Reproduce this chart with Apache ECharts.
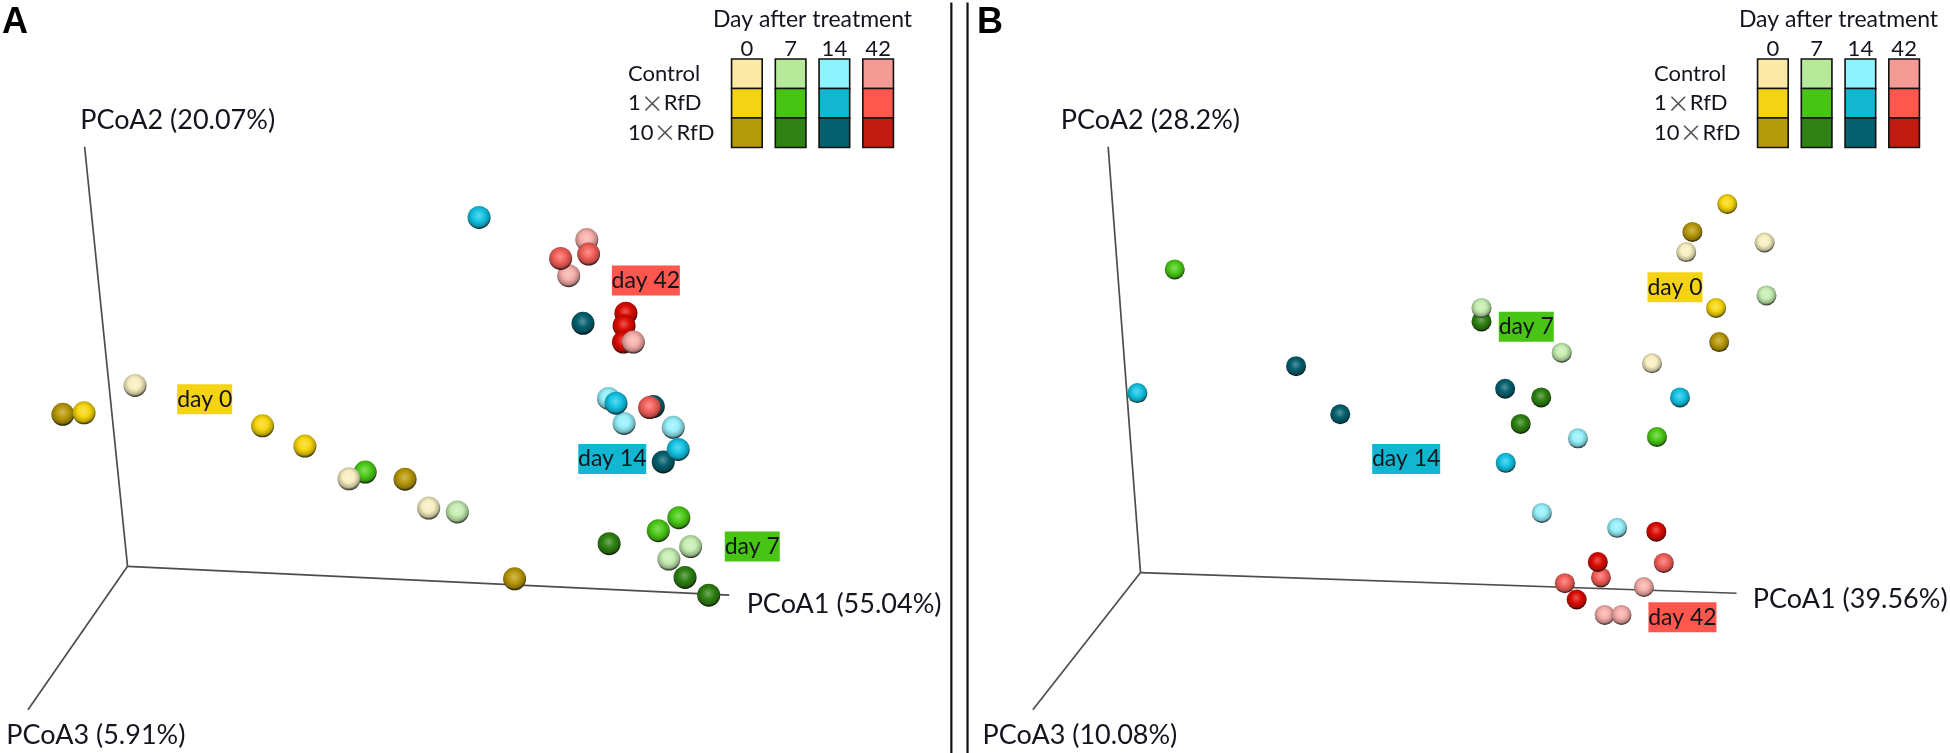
<!DOCTYPE html>
<html>
<head>
<meta charset="utf-8">
<style>html,body{margin:0;padding:0;background:#fff}#c{width:1950px;height:753px}</style>
<script src="https://cdn.jsdelivr.net/npm/echarts@6/dist/echarts.min.js"></script>
</head>
<body>
<div id="c"></div>
<script>
// Scatter values in picture units of each panel (x 0-1567, y 0-1565, y grows downward)
const A_d0_control = [[217,801],[561,995],[689,1056]];
const A_d0_rfd1    = [[135,858],[422,885],[490,927]];
const A_d0_rfd10   = [[101,861],[651,996],[827,1203]];
const A_d7_control = [[735,1064],[1075,1162],[1110,1136]];
const A_d7_rfd1    = [[587,981],[1058,1103],[1091,1076]];
const A_d7_rfd10   = [[979,1130],[1101,1200],[1139,1237]];
const A_d14_control= [[978,828],[1003,880],[1082,888]];
const A_d14_rfd1   = [[770,452],[990,838],[1090,934]];
const A_d14_rfd10  = [[937,672],[1050,845],[1066,960]];
const A_d42_control= [[943,498],[914,573],[1018,711]];
const A_d42_rfd1   = [[946,528],[901,537],[1044,847]];
const A_d42_rfd10  = [[1006,651],[1003,677],[1002,711]];

const B_d0_control = [[1143,524],[1269,504],[1088,755]];
const B_d0_rfd1    = [[1209,424],[1191,640]];
const B_d0_rfd10   = [[1153,482],[1196,711]];
const B_d7_control = [[814,640],[943,733],[1272,614]];
const B_d7_rfd1    = [[321,560],[1096,908]];
const B_d7_rfd10   = [[814,668],[910,826],[877,881]];
const B_d14_control= [[969,911],[911,1066],[1032,1097]];
const B_d14_rfd1   = [[261,817],[853,962],[1133,826]];
const B_d14_rfd10  = [[516,761],[587,861],[852,808]];
const B_d42_control= [[1012,1278],[1039,1278],[1075,1220]];
const B_d42_rfd1   = [[1107,1170],[1006,1200],[948,1212]];
const B_d42_rfd10  = [[1095,1105],[1001,1168],[967,1246]];

const axisA = {o:[205,1177], p2:[136,305], p1:[1172,1237], p3:[45,1475]};
const axisB = {o:[266,1190], p2:[214,305], p1:[1224,1233], p3:[93,1475]};

const axisNamesA = [[129,250,'PCoA2 (20.07%)'],[1200,1256,'PCoA1 (55.04%)'],[10,1528,'PCoA3 (5.91%)']];
const axisNamesB = [[138,250,'PCoA2 (28.2%)'],[1250,1246,'PCoA1 (39.56%)'],[12,1528,'PCoA3 (10.08%)']];

const tagsA = [[329,830,'day 0',0],[1209,1136,'day 7',1],[984,954,'day 14',2],[1038,583,'day 42',3]];
const tagsB = [[1125,597,'day 0',0],[886,679,'day 7',1],[693,954,'day 14',2],[1137,1283,'day 42',3]];

const days = ['0','7','14','42'];
const doses = ['Control','1×RfD','10×RfD'];
const palette = [
  ['#FBE9A5','#B6E99A','#8DF4FF','#F39A94'],
  ['#F4D214','#47C414','#11B7D0','#FF564D'],
  ['#B59A0A','#2F8213','#05606E','#C21A10']
];
const ballPalette = [
  ['#F7EFC0','#C4EDB0','#95F0FA','#F6AFAA'],
  ['#F7D60C','#4CCB18','#14C4E4','#F4605A'],
  ['#B8990A','#2F8213','#05606E','#DC0C04']
];
const FONT = 'Lato';
const INK = '#14141e';

function mix(hex, target, t){
  const n = parseInt(hex.slice(1),16), r=n>>16, g=(n>>8)&255, b=n&255;
  const f = (c,d)=>Math.round(c+(d-c)*t);
  return `rgb(${f(r,target)},${f(g,target)},${f(b,target)})`;
}
function sphere(c){
  return {type:'radial',x:0.48,y:0.42,r:0.58,colorStops:[
    {offset:0,color:mix(c,255,0.32)},
    {offset:0.45,color:c},
    {offset:0.8,color:mix(c,0,0.25)},
    {offset:1,color:mix(c,0,0.85)}
  ]};
}
const series = [];

function axisLines(ax, idx){
  [ax.p2, ax.p1, ax.p3].forEach(end=>{
    series.push({type:'line',xAxisIndex:idx,yAxisIndex:idx,data:[ax.o,end],symbol:'none',silent:true,z:1,
      lineStyle:{color:'#4d4d4d',width:1.7}});
  });
}
function balls(name, data, dose, day, idx, size, order){
  series.push({type:'scatter',name,xAxisIndex:idx,yAxisIndex:idx,data,symbol:'circle',symbolSize:size,
    z:2+order,silent:true,itemStyle:{color:sphere(ballPalette[dose][day]),opacity:1}});
}
axisLines(axisA,0); axisLines(axisB,1);

// [data, dose, day] in drawing order
[[A_d0_rfd10,2,0],[A_d0_rfd1,1,0],[A_d7_rfd1,1,1],[A_d0_control,0,0],[A_d7_control,0,1],[A_d7_rfd10,2,1],
 [A_d14_rfd10,2,2],[A_d14_control,0,2],[A_d14_rfd1,1,2],[A_d42_rfd10,2,3],[A_d42_control,0,3],[A_d42_rfd1,1,3]]
 .forEach((s,i)=>balls(doses[s[1]]+' day '+days[s[2]],s[0],s[1],s[2],0,23,i));
[[B_d0_rfd10,2,0],[B_d0_rfd1,1,0],[B_d0_control,0,0],[B_d7_rfd10,2,1],[B_d7_rfd1,1,1],[B_d7_control,0,1],
 [B_d14_rfd10,2,2],[B_d14_rfd1,1,2],[B_d14_control,0,2],[B_d42_control,0,3],[B_d42_rfd1,1,3],[B_d42_rfd10,2,3]]
 .forEach((s,i)=>balls(doses[s[1]]+' day '+days[s[2]],s[0],s[1],s[2],1,20,i));

function texts(data, idx){
  series.push({type:'scatter',xAxisIndex:idx,yAxisIndex:idx,data,symbolSize:0,silent:true,z:30,itemStyle:{opacity:1},
    label:{show:true,position:'right',distance:0,formatter:p=>p.value[2],fontFamily:FONT,fontSize:27,color:INK}});
}
texts(axisNamesA,0); texts(axisNamesB,1);

function tags(data, idx){
  series.push({type:'scatter',xAxisIndex:idx,yAxisIndex:idx,symbolSize:0,silent:true,z:31,itemStyle:{opacity:1},
    data:data.map(t=>({value:t,label:{backgroundColor:palette[1][t[3]],
      width:t[2].length>5?68:55}})),
    label:{show:true,position:'inside',formatter:p=>p.value[2],fontFamily:FONT,fontSize:23,color:INK,
      height:30,lineHeight:30,align:'center',verticalAlign:'middle'}});
}
tags(tagsA,0); tags(tagsB,1);

// Vertical dividers between the panels
const dividers = [[[1529,5],[1529,1565]],[[1555,5],[1555,1565]]];
dividers.forEach(d=>series.push({type:'line',xAxisIndex:0,yAxisIndex:0,data:d,symbol:'none',silent:true,
  clip:false,lineStyle:{color:'#111',width:2.2}}));

// Legends: custom rectangles on category axes
function legendSeries(idx){
  const data=[];
  doses.forEach((_,y)=>days.forEach((_,x)=>data.push({value:[x,y],itemStyle:{color:palette[y][x],opacity:1}})));
  series.push({type:'custom',xAxisIndex:idx,yAxisIndex:idx,data,silent:true,z:5,encode:{x:0,y:1},
    renderItem(params,api){
      const c=api.coord([api.value(0),api.value(1)]), s=api.size([1,1]), w=s[0]*0.7;
      return {type:'rect',shape:{x:c[0]-w/2,y:c[1]-s[1]/2,width:w,height:s[1]},
        style:Object.assign(api.style(),{stroke:'#111',lineWidth:1.6})};
    }});
}
legendSeries(2); legendSeries(3);

const hiddenX = {type:'value',min:0,max:1567,show:false};
const hiddenY = {type:'value',min:0,max:1565,inverse:true,show:false};
function legendX(gi){return {type:'category',gridIndex:gi,data:days,position:'top',
  axisLine:{show:false},axisTick:{show:false},
  axisLabel:{fontFamily:FONT,fontSize:22,color:INK,margin:-1,interval:0},
  name:'Day after treatment',nameLocation:'middle',nameGap:28,
  nameTextStyle:{fontFamily:FONT,fontSize:23,color:INK}};}
function legendY(gi){return {type:'category',gridIndex:gi,data:doses,inverse:true,
  axisLine:{show:false},axisTick:{show:false},
  axisLabel:{align:'left',margin:97,color:INK,fontFamily:FONT,fontSize:22,interval:0,
    formatter:v=>v.replace('×','{x|×}'),
    rich:{x:{fontFamily:'Noto Sans CJK JP',fontSize:23,color:'#555'}}}};}

const titleStyle = {fontFamily:'Liberation Sans',fontWeight:'bold',fontSize:36,color:'#000'};
const option = {
  animation:false,
  backgroundColor:'#fff',
  title:[
    {text:'A',left:-3,top:0,textStyle:titleStyle},
    {text:'B',left:972,top:0,textStyle:titleStyle}
  ],
  grid:[
    {left:0,top:0,width:975,height:753},
    {left:975,top:0,width:975,height:753},
    {left:725,top:59,width:175,height:88.5},
    {left:1751,top:59,width:175,height:88.5}
  ],
  xAxis:[Object.assign({gridIndex:0},hiddenX),Object.assign({gridIndex:1},hiddenX),legendX(2),legendX(3)],
  yAxis:[Object.assign({gridIndex:0},hiddenY),Object.assign({gridIndex:1},hiddenY),legendY(2),legendY(3)],
  series
};
echarts.init(document.getElementById('c'),null,{renderer:'canvas'}).setOption(option);
</script>
</body>
</html>
